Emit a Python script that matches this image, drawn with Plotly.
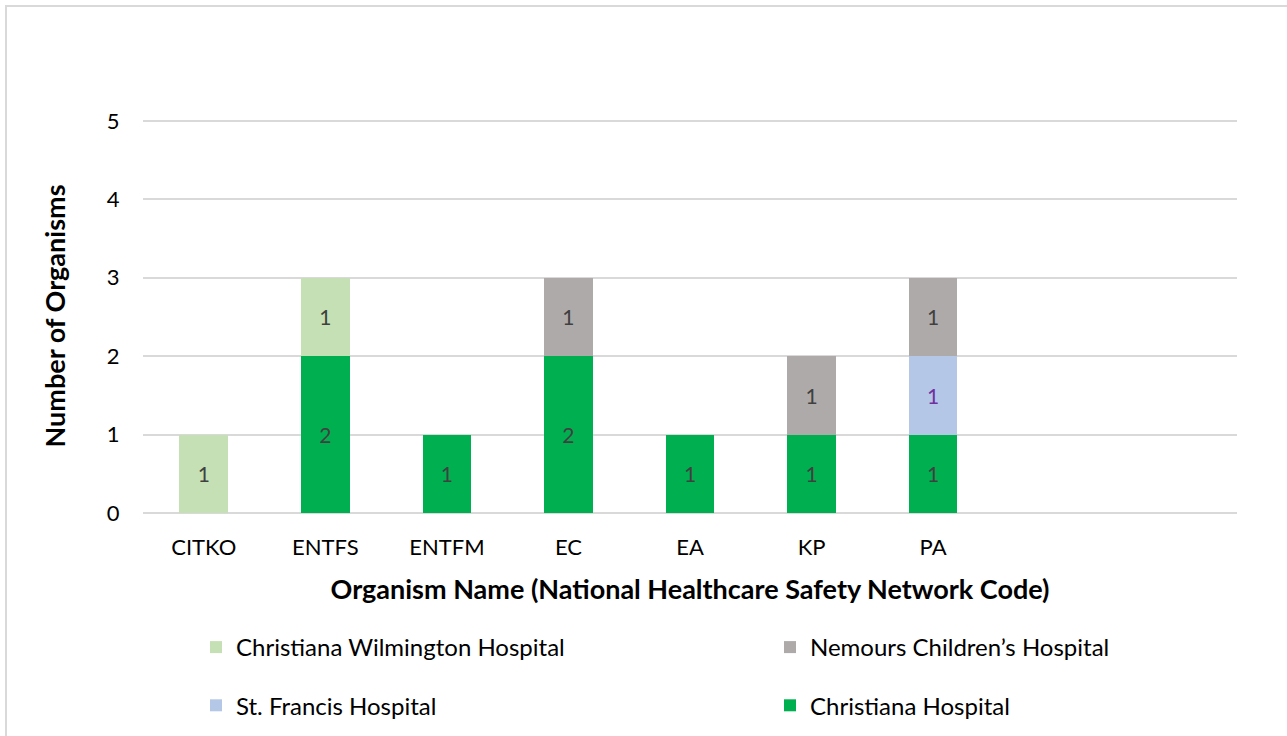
import plotly.graph_objects as go

categories = ["CITKO", "ENTFS", "ENTFM", "EC", "EA", "KP", "PA", " ", "  "]
christiana_hospital = [None, 2, 1, 2, 1, 1, 1, None, None]
st_francis = [None, None, None, None, None, None, 1, None, None]
nemours = [None, None, None, 1, None, 1, 1, None, None]
christiana_wilmington = [1, 1, None, None, None, None, None, None, None]

W, H = 1287, 736
L, R, T, B = 143, 1237, 119, 513
pw, ph = R - L, B - T

def px(x):
    return (x - L) / pw

def py(y):
    return (B - y) / ph

FONT = "Lato"
fig = go.Figure()

series = [
    ("Christiana Hospital", christiana_hospital, "#00B050", "#404040", "legend2", 2),
    ("St. Francis Hospital", st_francis, "#B4C7E7", "#7030A0", "legend", 2),
    ("Nemours Children’s Hospital", nemours, "#AEAAAA", "#404040", "legend2", 1),
    ("Christiana Wilmington Hospital", christiana_wilmington, "#C5E0B4", "#404040", "legend", 1),
]
for name, vals, col, tcol, lg, rank in series:
    fig.add_trace(go.Bar(
        x=categories, y=vals, name=name, marker_color=col,
        marker_line_width=0,
        text=vals, texttemplate="%{y}", textposition="inside",
        insidetextanchor="middle",
        textfont=dict(family=FONT, size=21, color=tcol),
        legend=lg, legendgroup=name, legendrank=rank,
    ))

legend_style = dict(
    yref="container", xanchor="left", y=1 - 625 / H, yanchor="top",
    orientation="v", traceorder="grouped", tracegroupgap=24,
    font=dict(family=FONT, size=24, color="#000000"),
    bgcolor="rgba(0,0,0,0)",
)

fig.update_layout(
    width=W, height=H, barmode="stack", bargap=0.6,
    margin=dict(l=L, r=W - R, t=T, b=H - B),
    plot_bgcolor="white", paper_bgcolor="white",
    font=dict(family=FONT, size=22, color="#000000"),
    uniformtext=dict(mode=False),
    xaxis=dict(
        tickfont=dict(family=FONT, size=22, color="#000000"),
        showgrid=False, showline=False,
        ticks="outside", ticklen=15, tickcolor="rgba(0,0,0,0)",
        title=dict(text="<b>Organism Name (National Healthcare Safety Network Code)</b>",
                   font=dict(family=FONT, size=27, color="#000000"), standoff=20),
    ),
    yaxis=dict(
        range=[0, 5.025], dtick=1, tick0=0,
        tickfont=dict(family=FONT, size=22, color="#000000"),
        showgrid=True, gridcolor="#D9D9D9", gridwidth=1.5,
        zeroline=True, zerolinecolor="#D9D9D9", zerolinewidth=1.5,
        ticks="outside", ticklen=18, tickcolor="rgba(0,0,0,0)",
        title=dict(text="<b>Number of Organisms</b>",
                   font=dict(family=FONT, size=27, color="#000000"), standoff=33),
    ),
    legend=dict(x=px(196), **legend_style),
    legend2=dict(x=px(770), **legend_style),
    shapes=[
        dict(type="rect", xref="paper", yref="paper",
             x0=px(6), x1=px(1300), y0=py(750), y1=py(6),
             line=dict(color="#D9D9D9", width=2), fillcolor="rgba(0,0,0,0)", layer="below"),
    ],
)

fig.write_html("out.html", config={"displayModeBar": False},
               post_script="document.body.style.margin='0px';")
